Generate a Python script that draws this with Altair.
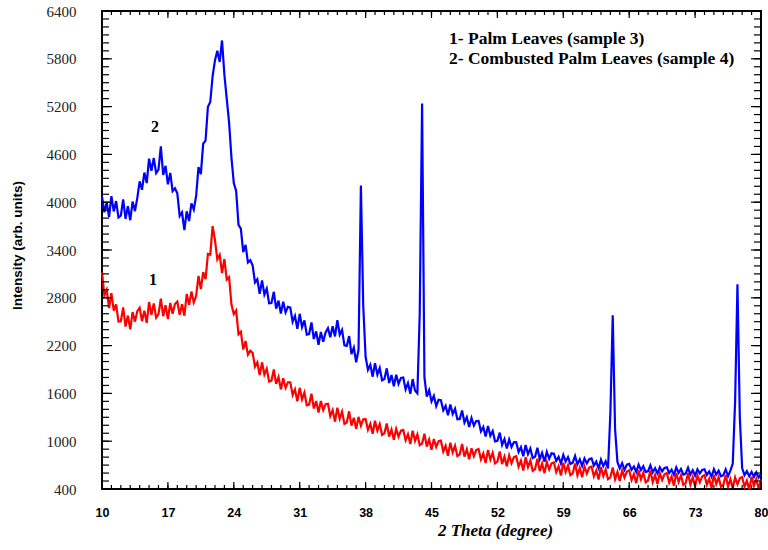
import altair as alt
import pandas as pd

# 2-theta sampling of the digitised patterns
THETA_START = 10.0
THETA_STEP = 0.25

# Sample 4: Combusted Palm Leaves (blue), one value per 0.25 degree from 10 to 80
BLUE = [
    4072, 3874, 3997, 3812, 4076, 3884, 4014, 3808,
    3830, 4035, 3792, 3949, 3774, 4008, 3888, 4054,
    4262, 4156, 4372, 4240, 4546, 4394, 4554, 4366,
    4410, 4700, 4342, 4456, 4224, 4368, 4138, 4174,
    4112, 3826, 3872, 3650, 3886, 3764, 3984, 3908,
    4080, 4440, 4352, 4736, 4774, 5198, 5258, 5584,
    5780, 5900, 5760, 6030, 5600, 5300, 5000, 4560,
    4240, 4140, 3716, 3668, 3372, 3464, 3244, 3272,
    3208, 2994, 3033, 2850, 3019, 2841, 2916, 2732,
    2735, 2875, 2663, 2764, 2601, 2752, 2617, 2686,
    2678, 2499, 2573, 2410, 2599, 2431, 2516, 2337,
    2345, 2490, 2283, 2379, 2211, 2372, 2247, 2366,
    2418, 2304, 2443, 2315, 2519, 2336, 2396, 2202,
    2195, 2320, 2093, 2174, 1991, 2147, 4210, 2700,
    2060, 1895, 1960, 1810, 1980, 1835, 1920, 1765,
    1780, 1915, 1730, 1830, 1690, 1835, 1720, 1795,
    1800, 1650, 1730, 1595, 1780, 1635, 1600, 2600,
    5240, 1800, 1560, 1640, 1500, 1570, 1440, 1520,
    1514, 1387, 1444, 1325, 1462, 1343, 1408, 1276,
    1280, 1385, 1234, 1302, 1178, 1291, 1196, 1253,
    1254, 1124, 1179, 1058, 1192, 1068, 1128, 998,
    1005, 1108, 954, 1027, 908, 1021, 926, 986,
    989, 864, 924, 810, 952, 838, 908, 788,
    805, 918, 774, 854, 743, 866, 781, 848,
    843, 754, 803, 720, 829, 746, 801, 714,
    730, 816, 710, 772, 691, 784, 722, 773,
    783, 694, 743, 660, 769, 688, 746, 657,
    1350, 2580, 1150, 740, 660, 725, 640, 705,
    715, 641, 683, 614, 705, 637, 685, 612,
    625, 697, 610, 662, 595, 673, 621, 664,
    672, 600, 643, 576, 670, 603, 652, 580,
    595, 668, 582, 635, 569, 647, 596, 639,
    648, 576, 620, 554, 648, 581, 630, 559,
    573, 646, 560, 630, 720, 1500, 2970, 1300,
    660, 575, 625, 560, 615, 550, 610, 545,
    590,
]

# Sample 3: Palm Leaves (red), same sampling
RED = [
    3120, 2832, 2899, 2670, 2857, 2638, 2718, 2501,
    2505, 2680, 2439, 2577, 2403, 2621, 2501, 2633,
    2674, 2507, 2639, 2485, 2747, 2588, 2728, 2551,
    2595, 2790, 2569, 2707, 2533, 2736, 2601, 2723,
    2754, 2587, 2719, 2575, 2847, 2713, 2878, 2741,
    2825, 3075, 2909, 3122, 3033, 3351, 3341, 3700,
    3524, 3282, 3339, 3110, 3287, 3028, 3058, 2716,
    2595, 2640, 2343, 2374, 2151, 2257, 2087, 2136,
    2110, 1935, 1990, 1830, 1990, 1835, 1910, 1750,
    1760, 1900, 1720, 1805, 1650, 1790, 1670, 1740,
    1740, 1580, 1650, 1500, 1670, 1525, 1610, 1450,
    1460, 1595, 1410, 1505, 1360, 1505, 1390, 1465,
    1470, 1315, 1390, 1245, 1420, 1280, 1370, 1218,
    1235, 1375, 1195, 1295, 1155, 1305, 1195, 1275,
    1277, 1144, 1217, 1092, 1256, 1132, 1214, 1080,
    1100, 1222, 1057, 1146, 1019, 1155, 1058, 1132,
    1142, 1011, 1087, 965, 1131, 1004, 1084, 950,
    970, 1095, 932, 1021, 894, 1028, 928, 999,
    1007, 871, 942, 818, 981, 859, 944, 813,
    835, 965, 807, 898, 774, 911, 813, 889,
    902, 771, 847, 725, 891, 769, 854, 723,
    745, 872, 712, 806, 684, 821, 725, 800,
    812, 680, 755, 632, 798, 675, 759, 628,
    650, 781, 624, 719, 599, 739, 646, 723,
    734, 611, 685, 570, 729, 614, 696, 573,
    595, 720, 572, 663, 549, 683, 594, 668,
    682, 559, 633, 518, 677, 563, 645, 523,
    545, 670, 522, 613, 499, 633, 545, 619,
    634, 512, 587, 474, 634, 521, 604, 483,
    506, 632, 485, 577, 464, 599, 511, 586,
    601, 480, 555, 442, 602, 489, 572, 452,
    475, 601, 455, 547, 435, 570, 483, 558,
    574, 453, 529, 416, 577, 464, 548, 427,
    451, 577, 431, 523, 411, 546, 459, 534,
    550, 429, 505, 392, 553, 440, 524, 403,
    520,
]

X_MAJOR = [10, 17, 24, 31, 38, 45, 52, 59, 66, 73, 80]
X_MINOR = list(range(10, 81))
Y_MAJOR = [400, 1000, 1600, 2200, 2800, 3400, 4000, 4600, 5200, 5800, 6400]
Y_MINOR = list(range(400, 6401, 100))

LEGEND_LINES = ["1- Palm Leaves (sample 3)", "2- Combusted Palm Leaves (sample 4)"]
CURVE_LABELS = ["1", "2"]
X_TITLE = "2 Theta (degree)"
Y_TITLE = "Intensity (arb. units)"

W, H = 659, 478

theta = [THETA_START + THETA_STEP * i for i in range(len(BLUE))]
blue_df = pd.DataFrame({"theta": theta, "intensity": BLUE})
red_df = pd.DataFrame({"theta": theta[: len(RED)], "intensity": RED})

xscale = alt.Scale(domain=[10, 80], nice=False, zero=False)
yscale = alt.Scale(domain=[400, 6400], nice=False, zero=False)

x_axis = alt.Axis(
    values=X_MAJOR, format="d", domain=False, ticks=False, grid=False,
    labelFont="Liberation Sans Narrow, Liberation Sans", labelFontSize=12.5,
    labelFontWeight="bold", labelColor="black", labelPadding=17,
    labelFlush=False, labelOverlap=False,
    title=X_TITLE, titleFont="Liberation Serif", titleFontSize=17,
    titleFontStyle="italic", titleFontWeight="bold", titleColor="black",
    titleX=393, titleY=41, titleBaseline="middle", titleAlign="center",
)
y_axis = alt.Axis(
    values=Y_MAJOR, format="d", domain=False, ticks=False, grid=False,
    labelFont="Liberation Serif", labelFontSize=15, labelColor="#222222",
    labelPadding=26, labelFlush=False, labelOverlap=False,
    title=Y_TITLE, titleFont="Liberation Sans", titleFontSize=13.5,
    titleFontWeight="bold", titleColor="black",
    titleX=-85, titleY=234, titleBaseline="middle", titleAlign="center", titleAngle=270,
)


def X(field):
    return alt.X(field, scale=xscale, axis=x_axis)


def Y(field):
    return alt.Y(field, scale=yscale, axis=y_axis)


blue = alt.Chart(blue_df).mark_line(color="#0000ff", strokeWidth=2.2).encode(
    x=X("theta:Q"), y=Y("intensity:Q"),
)
red = alt.Chart(red_df).mark_line(color="#ff0000", strokeWidth=2.2).encode(
    x=X("theta:Q"), y=Y("intensity:Q"),
)


def xticks(values, length):
    d = pd.DataFrame({"theta": values})
    base = alt.Chart(d).mark_rule(color="black", strokeWidth=1.2)
    bottom = base.encode(x=X("theta:Q"), y=alt.value(H), y2=alt.value(H - length))
    top = base.encode(x=X("theta:Q"), y=alt.value(0), y2=alt.value(length))
    return [bottom, top]


def yticks(values, length):
    d = pd.DataFrame({"intensity": values})
    base = alt.Chart(d).mark_rule(color="black", strokeWidth=1.2)
    left = base.encode(y=Y("intensity:Q"), x=alt.value(0), x2=alt.value(length))
    right = base.encode(y=Y("intensity:Q"), x=alt.value(W), x2=alt.value(W - length))
    return [left, right]


tick_layers = xticks(X_MINOR, 4) + xticks(X_MAJOR, 7) + yticks(Y_MINOR, 7) + yticks(Y_MAJOR, 10)

one = pd.DataFrame({"a": [0]})


def label(text, px, py, size, align="left"):
    return alt.Chart(one).mark_text(
        text=text, align=align, baseline="middle", font="Liberation Serif",
        fontWeight="bold", fontSize=size, color="black",
    ).encode(x=alt.value(px), y=alt.value(py))


texts = [
    label(LEGEND_LINES[0], 347, 28, 17.5),
    label(LEGEND_LINES[1], 347, 48, 17.5),
    label(CURVE_LABELS[1], 53, 116, 16, "center"),
    label(CURVE_LABELS[0], 51, 269, 16, "center"),
]

chart = alt.layer(blue, red, *tick_layers, *texts).properties(
    width=W, height=H,
    padding={"left": 102, "top": 11, "right": 7, "bottom": 61},
    autosize=alt.AutoSizeParams(type="none"),
    background="white",
).configure_view(stroke="black", strokeWidth=2)

chart.save("out.html", embed_options={"renderer": "svg", "actions": False})
